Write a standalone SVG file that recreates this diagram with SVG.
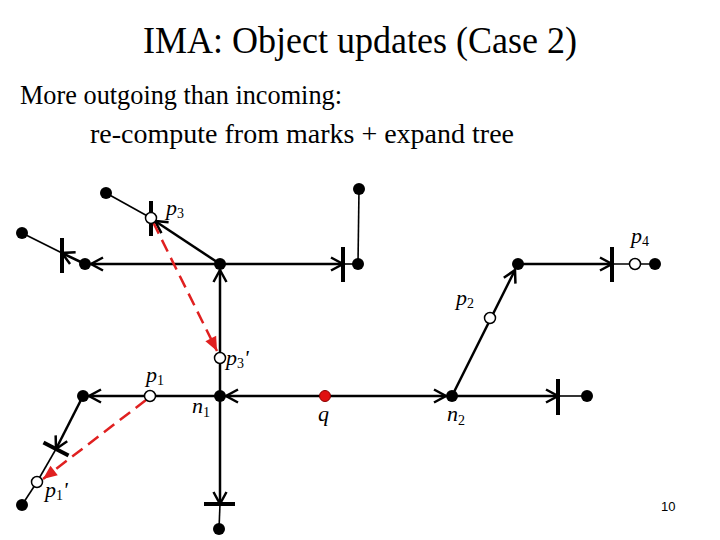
<svg xmlns="http://www.w3.org/2000/svg" width="720" height="540" viewBox="0 0 720 540">
<style>
.title{font-family:"Liberation Serif",serif;font-size:37px;fill:#000}
.body{font-family:"Liberation Serif",serif;font-size:28px;fill:#000}
.lbl{font-family:"Liberation Serif",serif;font-size:22px;font-style:italic;fill:#000}
.sub{font-size:14px;font-style:normal}
.thick{stroke:#000;stroke-width:2.5;fill:none}
.thin{stroke:#000;stroke-width:1.6;fill:none}
.tick{stroke:#000;stroke-width:4;fill:none}
.red{stroke:#e02020;stroke-width:2.5;fill:none;stroke-dasharray:13 7}
.dot{fill:#000}
.open{fill:#fff;stroke:#000;stroke-width:1.5}
.q{fill:#e01010;stroke:#800;stroke-width:1}
.pg{font-family:"Liberation Sans",sans-serif;font-size:13px;fill:#000}
</style>
<defs>
<marker id="ah" markerUnits="userSpaceOnUse" viewBox="-14 -8 16 16" markerWidth="16" markerHeight="16" refX="0" refY="0" orient="auto" overflow="visible">
<path d="M-12,-6.5 L0,0 L-12,6.5" fill="none" stroke="#000" stroke-width="2.5"/>
</marker>
<marker id="rh" markerUnits="userSpaceOnUse" viewBox="-16 -8 18 16" markerWidth="18" markerHeight="16" refX="0" refY="0" orient="auto" overflow="visible">
<path d="M-14,-6 L0,0 L-14,6 Z" fill="#e02020"/>
</marker>
</defs>
<text class="title" x="143" y="53" textLength="434" lengthAdjust="spacingAndGlyphs">IMA: Object updates (Case 2)</text>
<text class="body" x="20" y="104" textLength="322" lengthAdjust="spacingAndGlyphs">More outgoing than incoming:</text>
<text class="body" x="90" y="143" textLength="424" lengthAdjust="spacingAndGlyphs">re-compute from marks + expand tree</text>
<g id="connectors">
<line class="thick" x1="220" y1="264" x2="91" y2="264" marker-end="url(#ah)"/>
<line class="thick" x1="85" y1="264" x2="62" y2="253" marker-end="url(#ah)"/>
<line class="thin" x1="62" y1="253" x2="22" y2="233"/>
<line class="tick" x1="62" y1="238" x2="62" y2="273"/>
<line class="thick" x1="220" y1="264" x2="155" y2="221" marker-end="url(#ah)"/>
<line class="thin" x1="151" y1="218" x2="106" y2="193"/>
<line class="tick" x1="151" y1="201" x2="151" y2="236"/>
<line class="thick" x1="220" y1="264" x2="343" y2="264" marker-end="url(#ah)"/>
<line class="tick" x1="343" y1="247" x2="343" y2="282"/>
<line class="thin" x1="343" y1="264" x2="358" y2="264"/>
<line class="thin" x1="358" y1="264" x2="359" y2="189"/>
<line class="thick" x1="220" y1="396" x2="220" y2="270" marker-end="url(#ah)"/>
<line class="thick" x1="220" y1="396" x2="89" y2="396" marker-end="url(#ah)"/>
<line class="thick" x1="83" y1="396" x2="56" y2="449" marker-end="url(#ah)"/>
<line class="tick" x1="43.5" y1="442.5" x2="68.5" y2="455.5"/>
<line class="thin" x1="56" y1="449" x2="37" y2="482"/>
<line class="thin" x1="37" y1="482" x2="22" y2="505"/>
<line class="thick" x1="220" y1="396" x2="220" y2="504" marker-end="url(#ah)"/>
<line class="tick" x1="204" y1="504" x2="235" y2="504"/>
<line class="thin" x1="220" y1="504" x2="219" y2="529"/>
<line class="thick" x1="325" y1="396" x2="226" y2="396" marker-end="url(#ah)"/>
<line class="thick" x1="325" y1="396" x2="446" y2="396" marker-end="url(#ah)"/>
<line class="thick" x1="452" y1="396" x2="558" y2="396" marker-end="url(#ah)"/>
<line class="tick" x1="558" y1="379" x2="558" y2="415"/>
<line class="thin" x1="558" y1="396" x2="587" y2="396"/>
<line class="thick" x1="452" y1="396" x2="515" y2="270" marker-end="url(#ah)"/>
<line class="thick" x1="518" y1="264" x2="612" y2="264" marker-end="url(#ah)"/>
<line class="tick" x1="612" y1="247" x2="612" y2="282"/>
<line class="thin" x1="612" y1="264" x2="655" y2="264"/>
<line class="red" x1="153" y1="222" x2="217" y2="351" marker-end="url(#rh)"/>
<line class="red" x1="146" y1="400" x2="43" y2="479" marker-end="url(#rh)"/>
</g>
<g id="nodeA"><circle class="dot" cx="220" cy="264" r="6"/></g>
<g id="nodeL"><circle class="dot" cx="85" cy="264" r="6"/></g>
<g id="nodeLL"><circle class="dot" cx="22" cy="233" r="6"/></g>
<g id="nodeTL"><circle class="dot" cx="106" cy="193" r="6"/></g>
<g id="nodeR"><circle class="dot" cx="358" cy="264" r="6"/></g>
<g id="nodeRT"><circle class="dot" cx="359" cy="189" r="6"/></g>
<g id="p3"><circle class="open" cx="151" cy="218" r="5.5"/><text class="lbl" x="166" y="215">p<tspan class="sub" dy="3">3</tspan></text></g>
<g id="p3prime"><circle class="open" cx="220" cy="358" r="5.5"/><text class="lbl" x="226" y="365">p<tspan class="sub" dy="3">3</tspan><tspan dy="-3">'</tspan></text></g>
<g id="n1"><circle class="dot" cx="220" cy="396" r="6"/><text class="lbl" x="192" y="413">n<tspan class="sub" dy="4">1</tspan></text></g>
<g id="p1"><circle class="open" cx="150" cy="396" r="5.5"/><text class="lbl" x="146" y="382">p<tspan class="sub" dy="3">1</tspan></text></g>
<g id="nodeL2"><circle class="dot" cx="83" cy="396" r="6"/></g>
<g id="p1prime"><circle class="open" cx="37" cy="482" r="5.5"/><text class="lbl" x="45" y="497">p<tspan class="sub" dy="3">1</tspan><tspan dy="-3">'</tspan></text></g>
<g id="nodeLB"><circle class="dot" cx="22" cy="505" r="6"/></g>
<g id="nodeB"><circle class="dot" cx="219" cy="529" r="6"/></g>
<g id="q"><circle class="q" cx="325" cy="396" r="5.5"/><text class="lbl" x="318" y="421">q</text></g>
<g id="n2"><circle class="dot" cx="452" cy="396" r="6"/><text class="lbl" x="447" y="421">n<tspan class="sub" dy="4">2</tspan></text></g>
<g id="nodeR2"><circle class="dot" cx="587" cy="396" r="6"/></g>
<g id="p2"><circle class="open" cx="490" cy="318" r="5.5"/><text class="lbl" x="456" y="305">p<tspan class="sub" dy="3">2</tspan></text></g>
<g id="nodeBtop"><circle class="dot" cx="518" cy="264" r="6"/></g>
<g id="p4"><circle class="open" cx="635" cy="264" r="5.5"/><text class="lbl" x="631" y="243">p<tspan class="sub" dy="3">4</tspan></text></g>
<g id="nodeR4"><circle class="dot" cx="655" cy="264" r="6"/></g>
<text class="pg" x="661" y="511">10</text>
</svg>
